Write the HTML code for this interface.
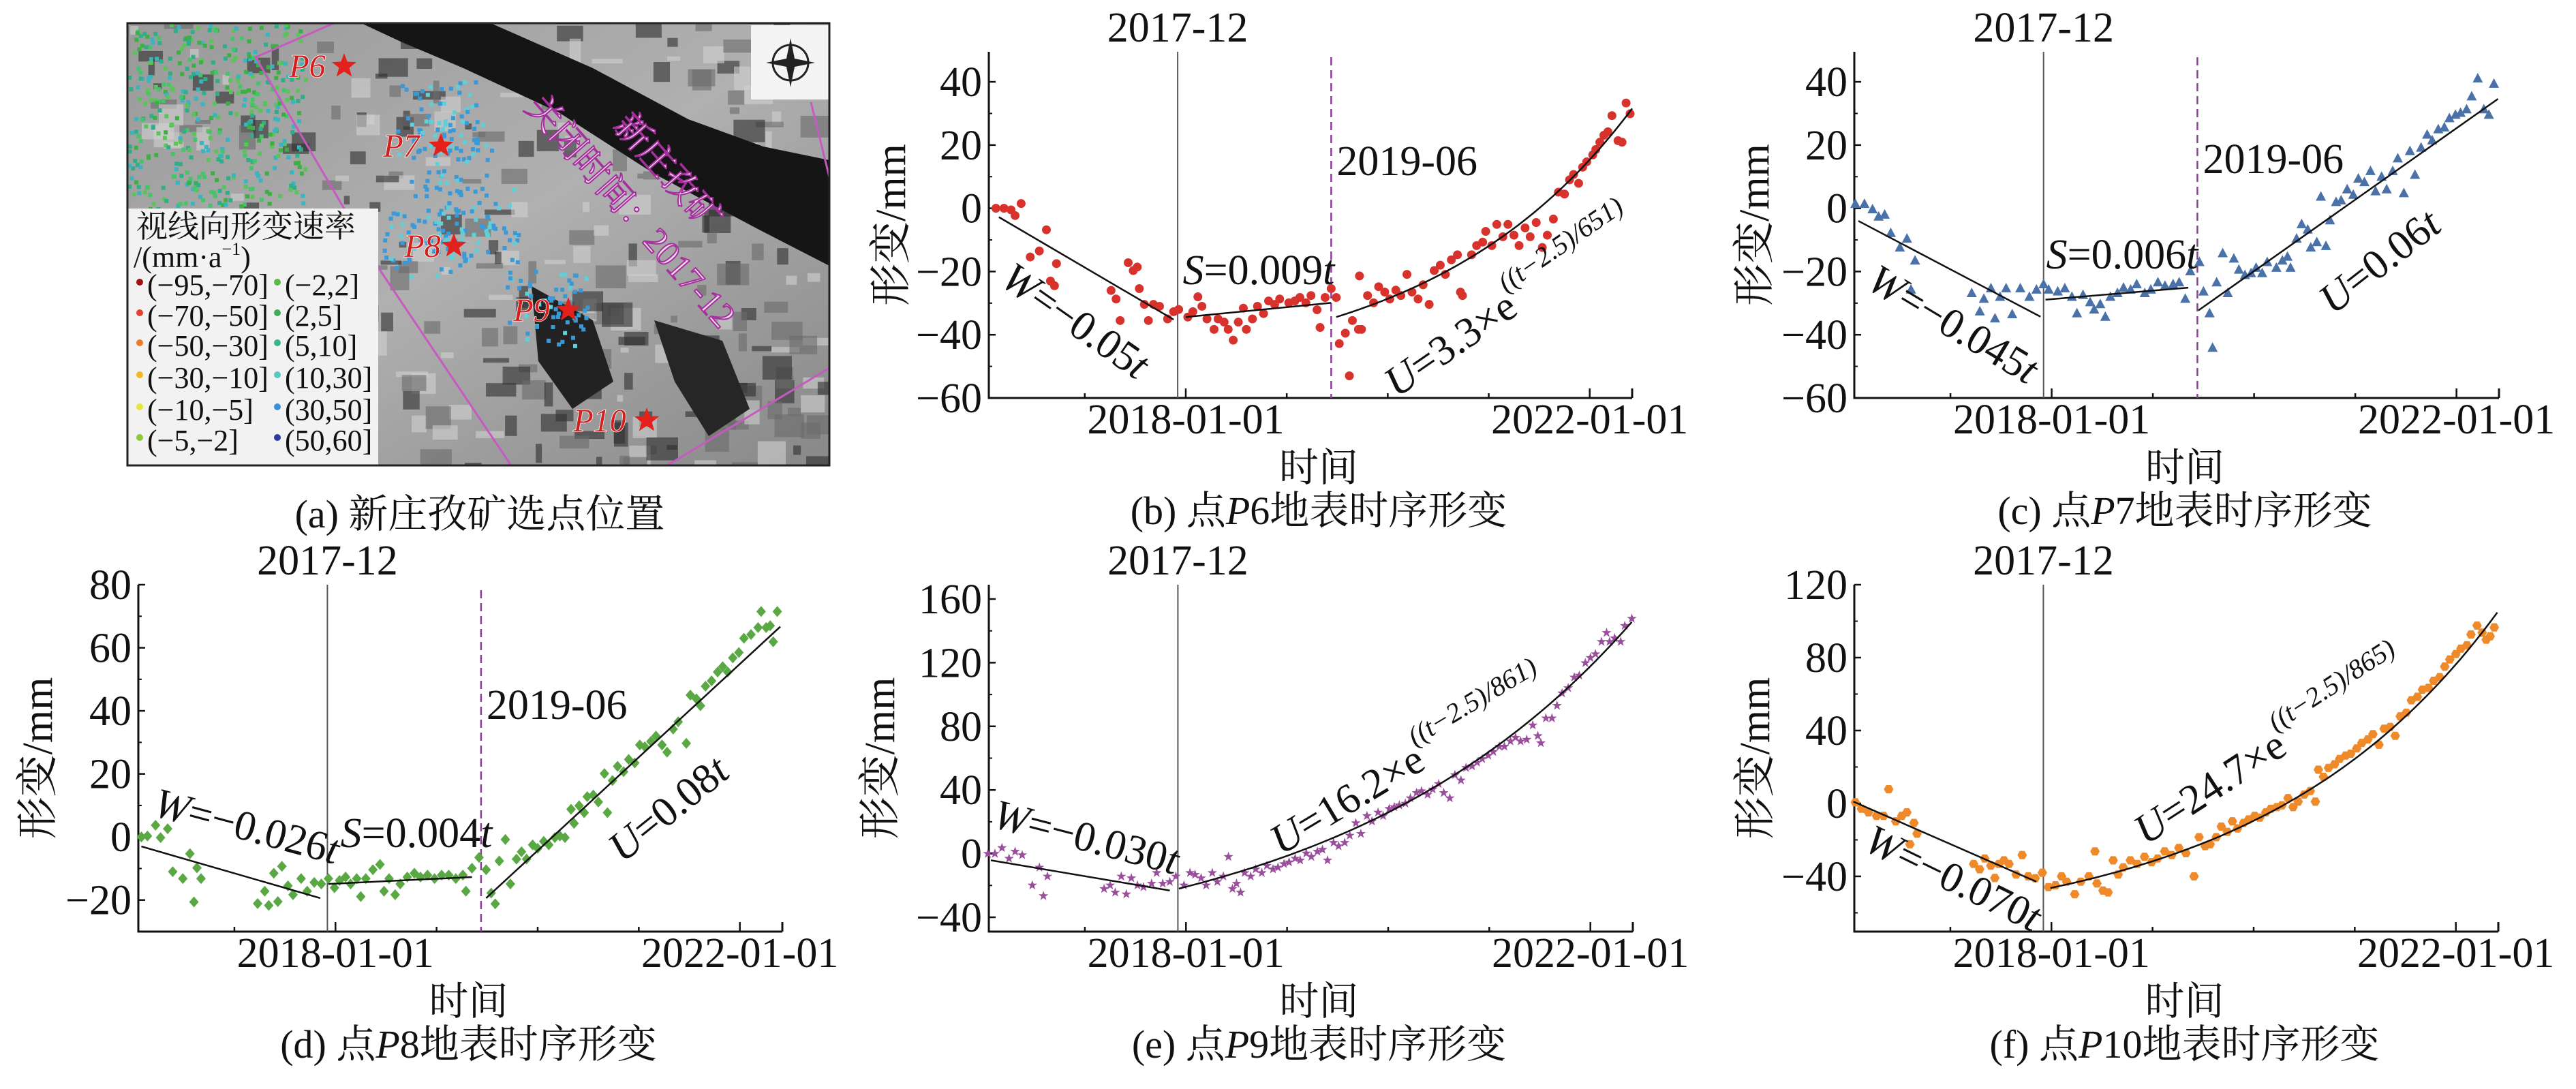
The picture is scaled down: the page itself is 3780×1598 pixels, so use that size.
<!DOCTYPE html>
<html><head><meta charset="utf-8">
<style>
html,body{margin:0;padding:0;background:#fff;}
svg{display:block;}
text{font-family:"Liberation Serif","Noto Serif CJK SC",serif;}
</style></head>
<body>
<svg id="fig" xmlns="http://www.w3.org/2000/svg" width="3780" height="1598" viewBox="0 0 3780 1598" fill="#111">
  <g id="map"></g>
  <g id="charts"></g>
</svg>
<script>
// ---------- DATA (decimal years / mm) ----------
const p6T=[2016.12,2016.2,2016.27,2016.31,2016.37,2016.46,2016.55,2016.62,2016.66,2016.7,2016.72,2017.26,2017.31,2017.35,2017.43,2017.48,2017.52,2017.54,2017.63,2017.59,2017.68,2017.74,2017.82,2017.88,2017.93,2018.02,2018.07,2018.12,2018.16,2018.21,2018.28,2018.32,2018.38,2018.42,2018.47,2018.52,2018.57,2018.6,2018.66,2018.71,2018.77,2018.82,2018.88,2018.93,2019.02,2019.08,2019.13,2019.19,2019.24,2019.3,2019.33,2019.38,2019.44,2019.49,2019.52,2019.58,2019.62,2019.65,2019.71,2019.74,2019.72,2019.8,2019.86,2019.91,2019.97,2020.02,2020.08,2020.13,2020.19,2020.24,2020.3,2020.35,2020.41,2020.46,2020.52,2020.57,2020.63,2020.69,2020.72,2020.74,2020.83,2020.88,2020.94,2020.97,2021.03,2021.08,2021.14,2021.19,2021.25,2021.3,2021.36,2021.41,2021.47,2021.53,2021.58,2021.64,2021.69,2021.75,2021.8,2021.84,2021.89,2021.93,2021.97,2022.03,2022.06,2022.1,2022.14,2022.18,2022.22,2022.28,2022.32,2022.36,2022.4];
const p6V=[0,0,-0.5,-2.3,1.5,-15.4,-13.5,-6.8,-23,-24.5,-17.5,-26,-28.7,-35.5,-17.2,-19.7,-18.6,-25.4,-35.5,-30.4,-30.4,-31,-35,-32.7,-32,-34.4,-32.7,-28,-31,-35,-38.3,-35,-36,-38.3,-41.7,-36,-31.6,-38.3,-35,-31,-33.3,-29.3,-30.4,-28.7,-29.9,-29.3,-28.2,-29.9,-27.6,-32.1,-37.7,-28.2,-25.4,-28.2,-42.8,-39.5,-53,-35.5,-38.3,-38.3,-21.4,-27.6,-29.9,-24.8,-26.5,-28.7,-25.9,-27.6,-20.9,-26.5,-28.7,-24.2,-30.4,-19.7,-18,-20.9,-16.3,-14.7,-26.5,-27.6,-14.7,-11.8,-10.7,-7.3,-11.8,-5.1,-9,-5.1,-8.5,-11.8,-6.2,-9,-4.5,-12.4,-8.5,-3.4,5.1,4.5,9,10.7,7.9,13,14.7,16.9,18.6,20.9,23.1,24.2,29.3,21.4,20.9,33.3,29.9];
const p6W=[2016.15,-2.8,2017.88,-35.2];
const p6S=[2018.0,-34.4,2019.44,-29.9];
const p6U=[2019.49,2022.42,20.2,2.02,-54.6];

const p7T=[2016.06,2016.15,2016.23,2016.29,2016.35,2016.41,2016.5,2016.57,2016.65,2016.61,2017.21,2017.29,2017.33,2017.4,2017.44,2017.49,2017.55,2017.61,2017.69,2017.78,2017.85,2017.92,2017.97,2018.06,2018.13,2018.2,2018.25,2018.31,2018.38,2018.42,2018.48,2018.53,2018.58,2018.65,2018.71,2018.78,2018.84,2018.92,2018.98,2019.05,2019.12,2019.2,2019.26,2019.32,2019.37,2019.46,2019.5,2019.56,2019.59,2019.63,2019.69,2019.74,2019.8,2019.85,2019.91,2019.97,2020.02,2020.08,2020.13,2020.22,2020.28,2020.33,2020.36,2020.42,2020.47,2020.53,2020.56,2020.62,2020.66,2020.71,2020.75,2020.81,2020.86,2020.92,2020.98,2021.03,2021.09,2021.15,2021.2,2021.26,2021.31,2021.37,2021.42,2021.48,2021.54,2021.59,2021.65,2021.71,2021.76,2021.82,2021.88,2021.93,2021.99,2022.04,2022.1,2022.15,2022.21,2022.27,2022.32,2022.37];
const p7V=[1.4,1.4,-0.3,-2.6,-2,-7.8,-12.4,-9.6,-16.5,-25.7,-26.8,-32.6,-28.6,-25.3,-34.8,-28,-25.3,-33.5,-25.3,-28,-25.7,-24,-25.7,-26.3,-25.3,-28,-33.2,-27.4,-29.7,-32,-30.3,-34.3,-28,-26.8,-25.1,-25.7,-24,-26.8,-25.7,-23.4,-24.5,-24,-23.4,-28.6,-19.9,-17,-26.3,-33.2,-44.1,-23.4,-14.2,-26.8,-15.9,-19.4,-21.1,-20.5,-18.8,-20.5,-17,-18.8,-16.5,-15.3,-18.8,-9.6,-5,-6.7,-12.4,-10.7,3.7,-11.9,-3.8,2,2.5,6,4.3,9.4,8.3,11.8,5.4,10,6,11.8,15.8,4.8,18.1,10.6,19.2,23.3,21.5,25,25.6,28.5,29.6,30.2,31.3,35.4,41.1,31.3,29.6,39.4];
const p7W=[2016.09,-4,2017.89,-34.3];
const p7S=[2017.94,-28.9,2019.35,-25.1];
const p7U=[2019.45,-32.3,2022.41,34.6];

const p8T=[2016.08,2016.14,2016.22,2016.27,2016.34,2016.39,2016.49,2016.56,2016.6,2016.63,2016.67,2017.23,2017.3,2017.34,2017.39,2017.43,2017.47,2017.53,2017.58,2017.66,2017.72,2017.79,2017.86,2017.93,2017.99,2018.04,2018.1,2018.15,2018.21,2018.25,2018.3,2018.37,2018.44,2018.48,2018.53,2018.59,2018.64,2018.71,2018.78,2018.84,2018.91,2018.98,2019.05,2019.12,2019.19,2019.26,2019.29,2019.35,2019.42,2019.49,2019.54,2019.58,2019.62,2019.68,2019.73,2019.79,2019.84,2019.89,2019.95,2020.0,2020.06,2020.11,2020.17,2020.22,2020.27,2020.33,2020.36,2020.41,2020.46,2020.49,2020.55,2020.6,2020.66,2020.69,2020.74,2020.79,2020.85,2020.9,2020.96,2021.01,2021.06,2021.12,2021.17,2021.23,2021.28,2021.34,2021.39,2021.47,2021.51,2021.57,2021.61,2021.66,2021.72,2021.78,2021.83,2021.88,2021.93,2021.99,2022.04,2022.11,2022.18,2022.21,2022.26,2022.3,2022.33,2022.37];
const p8V=[0,0.3,3.7,-0.2,2.6,-11,-13.2,-5.3,-20.6,-9.8,-13.2,-21.1,-17.2,-21.7,-11.5,-20.5,-9.3,-15.5,-18.3,-13.2,-17.2,-14.4,-14.9,-13.2,-16.1,-13.8,-12.7,-14.9,-13.2,-18.9,-13.2,-10.4,-8.7,-17.2,-13.2,-18.3,-14.9,-12.7,-11.5,-12.7,-12.1,-13.2,-12.1,-12.1,-13.2,-12.1,-17.2,-9.9,-6.5,-10.4,-17.8,-21.2,-7.6,-0.8,-14.9,-7,-4.7,-7,-2.5,-3.6,-1.4,-2.5,-0.2,0.3,-0.2,8.8,4.3,9.9,7.7,12.8,13.3,11.1,20.1,7.7,17.9,22.4,20.7,24.6,23.5,29.2,28.6,30.3,32,29.2,26.9,34.2,36.5,29.7,45,43.8,41.6,47.8,49.5,52.3,54,52.3,56.8,58.5,63,64.2,66.4,71.5,66.4,67,61.9,71.5];
const p8W=[2016.08,-3,2017.85,-19.4];
const p8S=[2017.93,-14.9,2019.35,-12.7];
const p8U=[2019.49,-19.4,2022.4,66.7];

const p9T=[2016.04,2016.11,2016.18,2016.25,2016.31,2016.38,2016.48,2016.55,2016.59,2016.63,2017.19,2017.25,2017.3,2017.36,2017.41,2017.46,2017.52,2017.58,2017.66,2017.71,2017.77,2017.84,2017.9,2017.98,2018.04,2018.09,2018.15,2018.2,2018.26,2018.31,2018.37,2018.42,2018.46,2018.5,2018.54,2018.58,2018.64,2018.69,2018.75,2018.8,2018.86,2018.91,2018.97,2019.02,2019.08,2019.13,2019.19,2019.24,2019.3,2019.35,2019.4,2019.46,2019.51,2019.57,2019.62,2019.68,2019.73,2019.79,2019.84,2019.9,2019.95,2020.01,2020.06,2020.11,2020.17,2020.22,2020.28,2020.33,2020.39,2020.44,2020.5,2020.55,2020.61,2020.66,2020.72,2020.77,2020.83,2020.88,2020.93,2020.99,2021.04,2021.1,2021.15,2021.21,2021.26,2021.31,2021.37,2021.43,2021.48,2021.51,2021.56,2021.62,2021.67,2021.72,2021.78,2021.84,2021.89,2021.95,2022.0,2022.05,2022.11,2022.16,2022.19,2022.24,2022.3,2022.34,2022.41];
const p9V=[0,0,3.6,-3.1,1.3,-0.9,-19.9,-8.7,-26.6,-14.3,-22.1,-19.9,-24.4,-14.3,-25.5,-15.4,-19.9,-21,-18.8,-12.1,-18.8,-17.7,-14.3,-19.9,-12.1,-13.2,-15.4,-19.9,-12.1,-17.7,-14.3,-2,-22.1,-18.8,-24.4,-12.1,-14.3,-9.8,-12.1,-7.6,-9.8,-8.7,-6.5,-5.4,-3.1,-4.2,0.2,-2,1.3,2.5,-4.2,6.9,4.7,6.9,11.4,19.2,12.5,23.7,20.3,25.9,23.7,28.2,29.3,30.4,31.5,34.9,38.2,39.3,37.1,40.4,43.8,38.2,34.9,49.4,46.1,53.9,55,57.3,59.5,61.7,64,67.3,67.3,70.6,72.9,70.6,71.7,80.7,74,69.5,85.1,85.1,93,100.8,104.1,110.8,112,119.8,123.1,125.4,133.2,138.8,133.2,135.4,133.2,143.2,147.7];
const p9W=[2016.07,-4.2,2017.84,-23.2];
const p9U=[2017.93,2022.41,47.3,2.96,-69.3];

const p10T=[2016.06,2016.12,2016.19,2016.27,2016.34,2016.39,2016.46,2016.52,2016.57,2016.6,2016.64,2016.67,2017.23,2017.29,2017.34,2017.4,2017.44,2017.48,2017.53,2017.58,2017.65,2017.71,2017.77,2017.84,2017.91,2017.97,2018.04,2018.1,2018.15,2018.23,2018.29,2018.37,2018.43,2018.45,2018.51,2018.56,2018.61,2018.66,2018.71,2018.78,2018.85,2018.92,2018.99,2019.05,2019.12,2019.19,2019.26,2019.33,2019.41,2019.46,2019.52,2019.57,2019.63,2019.68,2019.74,2019.79,2019.84,2019.9,2019.95,2020.01,2020.06,2020.12,2020.17,2020.23,2020.28,2020.34,2020.39,2020.44,2020.5,2020.56,2020.61,2020.64,2020.69,2020.74,2020.8,2020.85,2020.91,2020.96,2021.02,2021.07,2021.13,2021.18,2021.24,2021.29,2021.35,2021.4,2021.45,2021.51,2021.56,2021.62,2021.67,2021.73,2021.78,2021.84,2021.89,2021.94,2022.0,2022.05,2022.11,2022.15,2022.21,2022.26,2022.3,2022.34,2022.38];
const p10V=[0.6,-2.9,-4.9,-6.8,-6.8,7.8,-9.8,-6.8,-4.9,-22.4,-10.7,-16.6,-33.2,-36.1,-30.2,-34.1,-40.9,-33.2,-31.2,-33.2,-39,-28.3,-40,-41,-38,-45.9,-44.9,-40,-42.9,-49.8,-42.9,-40,-26.3,-43.9,-47.8,-48.8,-31.2,-39,-35.1,-31.2,-33.2,-29.3,-32.2,-30.2,-26.3,-28.3,-24.4,-27.3,-40,-18.5,-23.4,-22.4,-18.5,-12.7,-15.6,-9.8,-13.7,-10.7,-8.8,-6.8,-7.8,-4.9,-2.9,-2,-1,2.9,-2,1,4.9,6.8,1,18.5,14.6,19.5,21.5,24.4,26.3,27.3,30.2,33.2,35.1,38,32.2,41,42,37.1,47.8,49.8,56.6,58.5,62.4,63.4,67.3,69.3,75.1,79,82,84.9,86.8,92.7,97.6,93.7,89.8,91.7,96.6];
const p10W=[2016.04,1,2017.85,-42.9];
const p10U=[2017.99,2022.41,27.45,2.36,-73.85];

const tickTop=[40,20,0,-20,-40,-60];
const tickD=[80,60,40,20,0,-20];
const tickE=[160,120,80,40,0,-40];
const tickF=[120,80,40,0,-40];
const xTickLabels=["2018-01-01","2022-01-01"];
const xTickYears=[2018,2022];
const line2017=2017.92, line2019=2019.44;

// ---------- LAYOUT ----------
const NS="http://www.w3.org/2000/svg";
const T_MIN=2016.05, T_MAX=2022.42;
function mk(tag,attrs,parent,txt){const e=document.createElementNS(NS,tag);for(const k in attrs)e.setAttribute(k,attrs[k]);if(txt!==undefined)e.textContent=txt;parent.appendChild(e);return e;}
function starPts(x,y,ro,ri){let p=[];for(let i=0;i<10;i++){const r=i%2?ri:ro;const a=-Math.PI/2+i*Math.PI/5;p.push((x+r*Math.cos(a)).toFixed(1)+','+(y+r*Math.sin(a)).toFixed(1));}return p.join(' ');}

const charts=document.getElementById('charts');

function marker(g,shape,x,y,color){
  let e;
  if(shape==='circle'){e=mk('circle',{cx:x,cy:y,r:6.5,fill:color},g);}
  else if(shape==='tri'){e=mk('polygon',{points:`${x},${y-8} ${x-7.5},${y+6} ${x+7.5},${y+6}`,fill:color},g);}
  else if(shape==='diamond'){e=mk('polygon',{points:`${x},${y-8} ${x+7},${y} ${x},${y+8} ${x-7},${y}`,fill:color},g);}
  else if(shape==='star'){e=mk('polygon',{points:starPts(x,y,7.5,3),fill:color},g);}
  else {let p=[];for(let i=0;i<6;i++){const a=i*Math.PI/3;p.push((x+7*Math.cos(a)).toFixed(1)+','+(y+7*Math.sin(a)).toFixed(1));}e=mk('polygon',{points:p.join(' '),fill:color},g);}
  
  
}

function drawPanel(cfg){
  const g=mk('g',{},charts);
  
  
  const X=t=>cfg.x0+(t-T_MIN)/(T_MAX-T_MIN)*(cfg.x1-cfg.x0);
  const Y=v=>cfg.yb-(v-cfg.vmin)/(cfg.vmax-cfg.vmin)*(cfg.yb-cfg.yt);
  const ax=mk('path',{d:`M${cfg.x0},${cfg.yt} L${cfg.x0},${cfg.yb} L${cfg.x1},${cfg.yb} M${cfg.x1},${cfg.yb} L${cfg.x1},${cfg.yb-14}`,stroke:'#111','stroke-width':3,fill:'none'},g);
  
  
  const step=cfg.ticks[0]-cfg.ticks[1];
  for(let i=0;i<cfg.ticks.length;i++){
    const v=cfg.ticks[i],y=Y(v);
    mk('line',{x1:cfg.x0,y1:y,x2:cfg.x0+10,y2:y,stroke:'#111','stroke-width':2.5},g);
    const mv=v-step/2; if(mv>cfg.vmin){const my=Y(mv);mk('line',{x1:cfg.x0,y1:my,x2:cfg.x0+5,y2:my,stroke:'#111','stroke-width':2},g);}
    const lab=mk('text',{x:cfg.x0-10,y:y+21,'text-anchor':'end','font-size':62},g,String(v).replace('-','\u2212'));
    
    
  }
  if(cfg.ticks[0]+step/2<cfg.vmax){const my=Y(cfg.ticks[0]+step/2);mk('line',{x1:cfg.x0,y1:my,x2:cfg.x0+5,y2:my,stroke:'#111','stroke-width':2},g);}
  for(let yr=2017;yr<=2022;yr++){const x=X(yr);const big=xTickYears.indexOf(yr)>=0;mk('line',{x1:x,y1:cfg.yb,x2:x,y2:cfg.yb-(big?14:7),stroke:'#111','stroke-width':2.5},g);}
  for(let i=0;i<xTickYears.length;i++){
    const l=mk('text',{x:X(xTickYears[i]),y:cfg.yb+52,'text-anchor':'middle','font-size':62},g,xTickLabels[i]);
    
    
  }
  const vl=mk('line',{x1:X(line2017),y1:cfg.yt,x2:X(line2017),y2:cfg.yb,stroke:'#555','stroke-width':2},g);
  
  
  const vt=mk('text',{x:X(line2017),y:cfg.yt-15,'text-anchor':'middle','font-size':62},g,'2017-12');
  
  
  if(cfg.dash){
    const dl=mk('line',{x1:X(line2019),y1:cfg.yt+8,x2:X(line2019),y2:cfg.yb,stroke:'#8e3c9a','stroke-width':2.5,'stroke-dasharray':'12,7'},g);
    
    
    const dt=mk('text',{x:X(line2019)+8,y:cfg.dashY,'font-size':62},g,'2019-06');
    
    
  }
  for(let i=0;i<cfg.T.length;i++) marker(g,cfg.shape,X(cfg.T[i]),Y(cfg.V[i]),cfg.color);
  const fitLine=(p,name)=>{const l=mk('line',{x1:X(p[0]),y1:Y(p[1]),x2:X(p[2]),y2:Y(p[3]),stroke:'#111','stroke-width':2.5},g);};
  if(cfg.W)fitLine(cfg.W,'fit-w');
  if(cfg.S)fitLine(cfg.S,'fit-s');
  if(cfg.Ulin)fitLine(cfg.Ulin,'fit-u');
  if(cfg.Uexp){const p=cfg.Uexp;let d='';for(let k=0;k<=60;k++){const t=p[0]+(p[1]-p[0])*k/60;const v=p[4]+p[2]*Math.exp((t-p[0])/p[3]);d+=(k?'L':'M')+X(t).toFixed(1)+','+Y(v).toFixed(1);}
    const c=mk('path',{d:d,stroke:'#111','stroke-width':2.5,fill:'none'},g);}
  for(const a of cfg.ann){
    const t=mk('text',{x:a[0],y:a[1],'text-anchor':'middle','dominant-baseline':'central','font-size':a[4]||62,transform:`rotate(${a[2]} ${a[0]} ${a[1]})`},g);
    
    
    t.innerHTML=a[3];
  }
  const cx=(cfg.x0+cfg.x1)/2+12;
  const yl=mk('text',{x:cfg.ylx,y:(cfg.yt+cfg.yb)/2,'text-anchor':'middle','dominant-baseline':'central','font-size':62,transform:`rotate(-90 ${cfg.ylx} ${(cfg.yt+cfg.yb)/2})`},g,'形变/mm');
  
  
  const xl=mk('text',{x:cx,y:cfg.yb+122,'text-anchor':'middle','font-size':58},g,'时间');
  
  
  const cap=mk('text',{x:cx,y:cfg.yb+185,'text-anchor':'middle','font-size':58},g);
  
  
  cap.innerHTML=cfg.cap;
}
const I=s=>`<tspan font-style="italic">${s}</tspan>`;
const sup=s=>`<tspan font-size="40" dy="-30" font-style="italic">${s}</tspan>`;

drawPanel({id:'p6',x0:1451,x1:2395,yt:76,yb:584,vmin:-60,vmax:49.5,ticks:tickTop,dash:true,dashY:257,T:p6T,V:p6V,shape:'circle',color:'#d8322c',W:p6W,S:p6S,Uexp:p6U,ylx:1308,
  ann:[[1578,471,35,I('W')+'=\u22120.05'+I('t')],[1847,397,0,I('S')+'=0.009'+I('t')],[2216,445,-34.6,I('U')+'=3.3×e'+sup('((t\u22122.5)/651)')]],
  cap:'(b) 点'+I('P')+'6地表时序形变'});
drawPanel({id:'p7',x0:2721,x1:3667,yt:76,yb:584,vmin:-60,vmax:49.5,ticks:tickTop,dash:true,dashY:254,T:p7T,V:p7V,shape:'tri',color:'#4a72a8',W:p7W,S:p7S,Ulin:p7U,ylx:2575,
  ann:[[2866,476,31,I('W')+'=\u22120.045'+I('t')],[3114,374,0,I('S')+'=0.006'+I('t')],[3492,384,-38,I('U')+'=0.06'+I('t')]],
  cap:'(c) 点'+I('P')+'7地表时序形变'});
drawPanel({id:'p8',x0:203,x1:1148,yt:858,yb:1367,vmin:-30,vmax:80,ticks:tickD,dash:true,dashY:1055,T:p8T,V:p8V,shape:'diamond',color:'#5aa843',W:p8W,S:p8S,Ulin:p8U,ylx:56,
  ann:[[362,1213,15,I('W')+'=\u22120.026'+I('t')],[611,1223,0,I('S')+'=0.004'+I('t')],[981,1187,-39,I('U')+'=0.08'+I('t')]],
  cap:'(d) 点'+I('P')+'8地表时序形变'});
drawPanel({id:'p9',x0:1451,x1:2396,yt:858,yb:1367,vmin:-49,vmax:169,ticks:tickE,dash:false,T:p9T,V:p9V,shape:'star',color:'#9a4e9c',W:p9W,Uexp:p9U,ylx:1292,
  ann:[[1594,1229,14.6,I('W')+'=\u22120.030'+I('t')],[2068,1119,-31,I('U')+'=16.2×e'+sup('((t\u22122.5)/861)')]],
  cap:'(e) 点'+I('P')+'9地表时序形变'});
drawPanel({id:'p10',x0:2721,x1:3666,yt:858,yb:1367,vmin:-70.3,vmax:120,ticks:tickF,dash:false,T:p10T,V:p10V,shape:'hex',color:'#ef8a2b',W:p10W,Uexp:p10U,ylx:2576,
  ann:[[2866,1289,26,I('W')+'=\u22120.070'+I('t')],[3332,1098,-33,I('U')+'=24.7×e'+sup('((t\u22122.5)/865)')]],
  cap:'(f) 点'+I('P')+'10地表时序形变'});

// ---------- MAP (panel a) ----------
const map=document.getElementById('map');
mk('defs',{},map).innerHTML='<clipPath id="mc"><rect x="187" y="34" width="1030" height="649"/></clipPath><linearGradient id="bg" x1="0" y1="0" x2="1" y2="1"><stop offset="0" stop-color="#9a9a9a"/><stop offset="0.5" stop-color="#b0b0b0"/><stop offset="1" stop-color="#888"/></linearGradient>';
const mg=mk('g',{'clip-path':'url(#mc)'},map);
mk('rect',{x:187,y:34,width:1030,height:649,fill:'url(#bg)'},mg);
let seed=7;const rnd=()=>{seed=(seed*16807)%2147483647;return seed/2147483647;};
for(let i=0;i<320;i++){const x=187+rnd()*1030,y=34+rnd()*649;const s=rnd();mk('rect',{x:x,y:y,width:8+rnd()*40,height:6+rnd()*30,fill:s<0.4?'#2e2e2e':(s<0.7?'#d0d0d0':'#6a6a6a'),opacity:0.6},mg);}
mk('polygon',{points:'530,34 720,34 870,100 1010,175 1120,215 1217,235 1217,390 1110,335 960,255 820,165 680,100 590,62',fill:'#151515'},mg);
mk('polygon',{points:'780,420 870,470 900,560 840,600 790,530',fill:'#222'},mg);
mk('polygon',{points:'960,470 1060,500 1100,600 1040,640 990,560',fill:'#262626'},mg);
const cols=['#3cb043','#47c46a','#2fae8a','#5cc35a','#3ab4c0'];
for(let i=0;i<420;i++){const x=187+rnd()*250,y=34+rnd()*640;if(y>300&&x<560)continue;mk('rect',{x:x,y:y,width:6,height:6,fill:cols[Math.floor(rnd()*5)]},mg);}
for(let i=0;i<260;i++){const x=187+rnd()*260,y=34+rnd()*280;mk('rect',{x:x,y:y,width:6,height:6,fill:cols[Math.floor(rnd()*5)]},mg);}
for(let i=0;i<300;i++){const cx=[640,660,620,700,800][i%5],cy=[170,230,360,330,450][i%5];mk('rect',{x:cx+(rnd()-0.5)*120,y:cy+(rnd()-0.5)*110,width:6,height:6,fill:rnd()<0.7?'#3a9ad8':'#5fd0d8'},mg);}
mk('polyline',{points:'490,34 375,84 560,400 750,683',fill:'none',stroke:'#c65ac0','stroke-width':3},mg);
mk('polyline',{points:'979,683 1217,540',fill:'none',stroke:'#c65ac0','stroke-width':3},mg);
mk('polyline',{points:'1190,150 1217,260',fill:'none',stroke:'#c65ac0','stroke-width':3},mg);
const cp=mk('g',{},mg);
mk('rect',{x:1102,y:37,width:115,height:109,fill:'#f4f4f4'},cp);
mk('circle',{cx:1160,cy:92,r:26,fill:'none',stroke:'#222','stroke-width':3},cp);
mk('polygon',{points:'1160,56 1166,86 1196,92 1166,98 1160,128 1154,98 1124,92 1154,86',fill:'#222'},cp);
for(const m of [[980,253,'新庄孜矿'],[925,311,'关闭时间：2017-12']]){
  const t=mk('text',{x:m[0],y:m[1],'text-anchor':'middle','dominant-baseline':'central','font-size':52,fill:'#f2dcef',stroke:'#a52f9d','stroke-width':2,transform:`rotate(48.6 ${m[0]} ${m[1]})`},mg,m[2]);
  
}
const pts=[[451,97,505,'P6'],[589,214,647,'P7'],[620,361,666,'P8'],[780,455,834,'P9'],[880,617,949,'P10']];
for(const p of pts){
  const t=mk('text',{x:p[0],y:p[1]+16,'text-anchor':'middle','font-size':48,'font-style':'italic',fill:'#d41f1f',stroke:'#fff','stroke-width':1.5,'paint-order':'stroke'},mg,p[3]);
  
  const s=mk('polygon',{points:starPts(p[2],p[1],19,8),fill:'#e3201b'},mg);
  
}
const lg=mk('g',{},mg);
mk('rect',{x:187,y:306,width:368,height:377,fill:'#f2f2f2'},lg);
mk('text',{x:200,y:348,'font-size':46},lg,'视线向形变速率');
mk('text',{x:196,y:392,'font-size':44},lg).innerHTML='/(mm·a<tspan font-size="26" dy="-18">\u22121</tspan><tspan dy="18">)</tspan>';
const leftL=['(\u221295,\u221270]','(\u221270,\u221250]','(\u221250,\u221230]','(\u221230,\u221210]','(\u221210,\u22125]','(\u22125,\u22122]'];
const rightL=['(\u22122,2]','(2,5]','(5,10]','(10,30]','(30,50]','(50,60]'];
const lc=['#a01010','#e2402a','#ef7a2a','#f2b820','#e8e43a','#8cc83a'];
const rc=['#5bb84a','#3fae58','#3cb48a','#58c8c0','#3a90d8','#2a3ca0'];
const rowY=[418,463,507,554,601,646];
for(let i=0;i<6;i++){
  mk('circle',{cx:205,cy:rowY[i]-4,r:5,fill:lc[i]},lg);
  mk('circle',{cx:407,cy:rowY[i]-4,r:5,fill:rc[i]},lg);
  const a=mk('text',{x:216,y:rowY[i]+15,'font-size':44},lg,leftL[i]);
  const b=mk('text',{x:418,y:rowY[i]+15,'font-size':44},lg,rightL[i]);
}
mk('rect',{x:187,y:34,width:1030,height:649,fill:'none',stroke:'#222','stroke-width':3},map);
const capA=mk('text',{x:704,y:774,'text-anchor':'middle','font-size':58},map,'(a) 新庄孜矿选点位置');


</script>
</body></html>
